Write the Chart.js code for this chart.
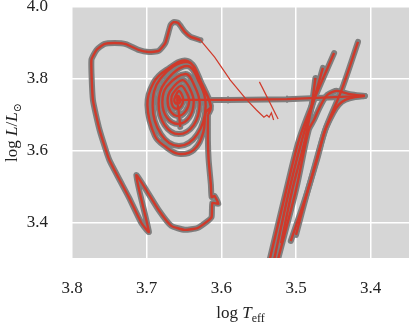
<!DOCTYPE html>
<html>
<head>
<meta charset="utf-8">
<script src="https://cdn.jsdelivr.net/npm/chart.js@4.4.1/dist/chart.umd.min.js"></script>
<style>
  html, body { margin: 0; padding: 0; background: #fff; }
  canvas { display: block; }
</style>
</head>
<body>
<canvas id="hrChart" width="415" height="324"></canvas>
<script>
// tick labels
const xTicks = [3.8, 3.7, 3.6, 3.5, 3.4];
const yTicks = [3.4, 3.6, 3.8, 4.0];

// spiral part of the loop track (log Teff, log L)
const spiralT = [3.655, 3.657, 3.659,
  3.658, 3.656, 3.655, 3.656, 3.659, 3.662, 3.663, 3.662,
  3.657, 3.653, 3.651, 3.654, 3.659, 3.665, 3.667, 3.665,
  3.654, 3.647, 3.643, 3.648, 3.658, 3.668, 3.672, 3.668,
  3.652, 3.642, 3.637, 3.643, 3.658, 3.673, 3.679, 3.673,
  3.648, 3.636, 3.629, 3.637, 3.657, 3.676, 3.684, 3.676,
  3.646, 3.630, 3.621, 3.632, 3.657, 3.681, 3.692, 3.681,
  3.645, 3.628, 3.614, 3.621, 3.624, 3.637, 3.657, 3.674, 3.689, 3.699, 3.691, 3.674,
  3.645, 3.626, 3.614, 3.618];
const spiralL = [3.667, 3.708, 3.742,
  3.753, 3.748, 3.742, 3.734, 3.731, 3.734, 3.742, 3.749,
  3.767, 3.757, 3.742, 3.724, 3.717, 3.724, 3.742, 3.759,
  3.781, 3.764, 3.739, 3.710, 3.697, 3.710, 3.739, 3.768,
  3.797, 3.772, 3.736, 3.693, 3.675, 3.693, 3.736, 3.779,
  3.814, 3.781, 3.731, 3.672, 3.647, 3.672, 3.731, 3.789,
  3.836, 3.792, 3.725, 3.647, 3.614, 3.647, 3.725, 3.803,
  3.847, 3.792, 3.725, 3.706, 3.653, 3.603, 3.592, 3.611, 3.642, 3.728, 3.789, 3.825,
  3.850, 3.786, 3.722, 3.700];

// rest of the loop: down, bottom lobe, left arm, top arc
const loopT = [3.618, 3.618, 3.617, 3.614, 3.613, 3.609, 3.604, 3.612, 3.613, 3.618, 3.632,
  3.649, 3.667, 3.684, 3.714, 3.697, 3.707, 3.724, 3.750, 3.763, 3.772, 3.774, 3.767,
  3.757, 3.743, 3.728, 3.711, 3.697, 3.684, 3.675, 3.668, 3.664, 3.658, 3.649, 3.641, 3.628];
const loopL = [3.700, 3.631, 3.575, 3.506, 3.472, 3.475, 3.453, 3.456, 3.417, 3.406, 3.386,
  3.381, 3.392, 3.436, 3.533, 3.375, 3.400, 3.472, 3.575, 3.658, 3.742, 3.853, 3.881,
  3.897, 3.900, 3.897, 3.881, 3.875, 3.878, 3.900, 3.950, 3.958, 3.956, 3.931, 3.917, 3.908];

// thin continuation and short thin segment
const thinT = [3.628, 3.609, 3.588, 3.568, 3.553, 3.543, 3.539, 3.536, 3.533, 3.530];
const thinL = [3.908, 3.861, 3.797, 3.747, 3.714, 3.694, 3.700, 3.694, 3.706, 3.686];
const shortT = [3.549, 3.524];
const shortL = [3.792, 3.689];

// horizontal track
const horizT = [3.659, 3.591, 3.512, 3.408];
const horizL = [3.742, 3.742, 3.744, 3.753];
const markT = [3.591, 3.512];
const markL = [3.742, 3.744];

// giant-branch tracks
const s1T = [3.507, 3.484, 3.461, 3.439, 3.417];
const s1L = [3.350, 3.492, 3.658, 3.769, 3.903];
const s2T = [3.536, 3.513, 3.496, 3.476, 3.449];
const s2L = [3.292, 3.492, 3.631, 3.742, 3.872];
const s3T = [3.530, 3.509, 3.492, 3.478, 3.464];
const s3L = [3.292, 3.492, 3.631, 3.728, 3.831];
const s4T = [3.520, 3.505, 3.488, 3.479, 3.474];
const s4L = [3.344, 3.492, 3.631, 3.728, 3.803];
const c1T = [3.408, 3.421, 3.434, 3.443, 3.450, 3.461, 3.472, 3.484, 3.500];
const c1L = [3.753, 3.750, 3.742, 3.728, 3.706, 3.658, 3.575, 3.492, 3.367];
const c2T = [3.408, 3.428, 3.445, 3.451, 3.458, 3.463, 3.470, 3.476, 3.483, 3.500, 3.525];
const c2L = [3.753, 3.758, 3.767, 3.764, 3.756, 3.742, 3.714, 3.686, 3.658, 3.492, 3.292];

const GRAY = '#7e7e7e';
const RED = '#d0392a';
const serif = '"Liberation Serif", "DejaVu Serif", serif';

function pts(xs, ys) {
    return xs.map((x, i) => ({ x: x, y: ys[i] }));
}

// gris épais dessous, rouge fin dessus
function thick(xs, ys, tension) {
    const data = pts(xs, ys);
    return [
        { data: data, showLine: true, borderColor: GRAY, borderWidth: 6, pointRadius: 0, tension: tension, order: 2, borderCapStyle: 'round', borderJoinStyle: 'round' },
        { data: data, showLine: true, borderColor: RED, borderWidth: 2.4, pointRadius: 0, tension: tension, order: 1, borderJoinStyle: 'round' }
    ];
}

function thin(xs, ys) {
    return { data: pts(xs, ys), showLine: true, borderColor: RED, borderWidth: 1.2, pointRadius: 0, order: 1 };
}

const datasets = [].concat(
    thick(spiralT, spiralL, 0.4),
    thick(loopT, loopL, 0.15),
    thick(horizT, horizL, 0),
    thick(s1T, s1L, 0.3),
    thick(s2T, s2L, 0.3),
    thick(s3T, s3L, 0.3),
    thick(s4T, s4L, 0.3),
    thick(c1T, c1L, 0.3),
    thick(c2T, c2L, 0.3),
    [thin(thinT, thinL), thin(shortT, shortL),
     { data: pts(markT, markL), showLine: false, pointStyle: 'line', rotation: 90, pointRadius: 3.5,
       borderColor: GRAY, borderWidth: 2, order: 2 }]
);

// fond gris de la zone du graphique
const plotBg = {
    id: 'plotBg',
    beforeDraw(chart) {
        const { ctx, chartArea: a } = chart;
        ctx.save();
        ctx.fillStyle = '#d6d6d6';
        ctx.fillRect(a.left, a.top, a.width, a.height);
        ctx.restore();
    }
};

// titres des axes avec italique et indice
function drawParts(ctx, parts, cx, baseY) {
    let total = 0;
    parts.forEach(p => { ctx.font = p.font; p.w = ctx.measureText(p.text).width; total += p.w; });
    let x = cx - total / 2;
    parts.forEach(p => {
        ctx.font = p.font;
        ctx.fillText(p.text, x, baseY + (p.dy || 0));
        x += p.w;
    });
}

const axisTitles = {
    id: 'axisTitles',
    afterDraw(chart) {
        const { ctx, chartArea: a } = chart;
        ctx.save();
        ctx.fillStyle = '#222';
        ctx.textBaseline = 'alphabetic';
        ctx.textAlign = 'left';
        drawParts(ctx, [
            { text: 'log ', font: '17px ' + serif },
            { text: 'T', font: 'italic 17px ' + serif },
            { text: 'eff', font: '12px ' + serif, dy: 4 }
        ], (a.left + a.right) / 2, 318);
        ctx.translate(17, (a.top + a.bottom) / 2);
        ctx.rotate(-Math.PI / 2);
        drawParts(ctx, [
            { text: 'log ', font: '17px ' + serif },
            { text: 'L', font: 'italic 17px ' + serif },
            { text: '/', font: '17px ' + serif },
            { text: 'L', font: 'italic 17px ' + serif },
            { text: '\u2299', font: '11px ' + serif, dy: 4 }
        ], 0, 0);
        ctx.restore();
    }
};

const tickFont = { family: serif, size: 17 };

new Chart(document.getElementById('hrChart'), {
    type: 'scatter',
    data: { datasets: datasets },
    options: {
        responsive: false,
        animation: false,
        layout: { padding: { top: 7, right: 0, left: 0, bottom: 0 } },
        plugins: {
            legend: { display: false },
            tooltip: { enabled: false }
        },
        scales: {
            x: {
                type: 'linear',
                reverse: true,
                min: 3.3487,
                max: 3.8,
                afterBuildTicks: s => { s.ticks = xTicks.map(v => ({ value: v })); },
                afterFit: s => { s.height = 66; s.paddingLeft = 0; s.paddingRight = 0; },
                grid: { color: '#ffffff', lineWidth: 1.5, drawTicks: false },
                border: { display: false },
                ticks: { padding: 20, color: '#222', font: tickFont, maxRotation: 0, callback: v => v.toFixed(1) }
            },
            y: {
                type: 'linear',
                min: 3.3028,
                max: 4.0,
                afterBuildTicks: s => { s.ticks = yTicks.map(v => ({ value: v })); },
                afterFit: s => { s.width = 72; s.paddingTop = 0; s.paddingBottom = 0; },
                grid: { color: '#ffffff', lineWidth: 1.5, drawTicks: false },
                border: { display: false },
                ticks: { padding: 24, color: '#222', font: tickFont, callback: v => v.toFixed(1) }
            }
        }
    },
    plugins: [plotBg, axisTitles]
});
</script>
</body>
</html>
